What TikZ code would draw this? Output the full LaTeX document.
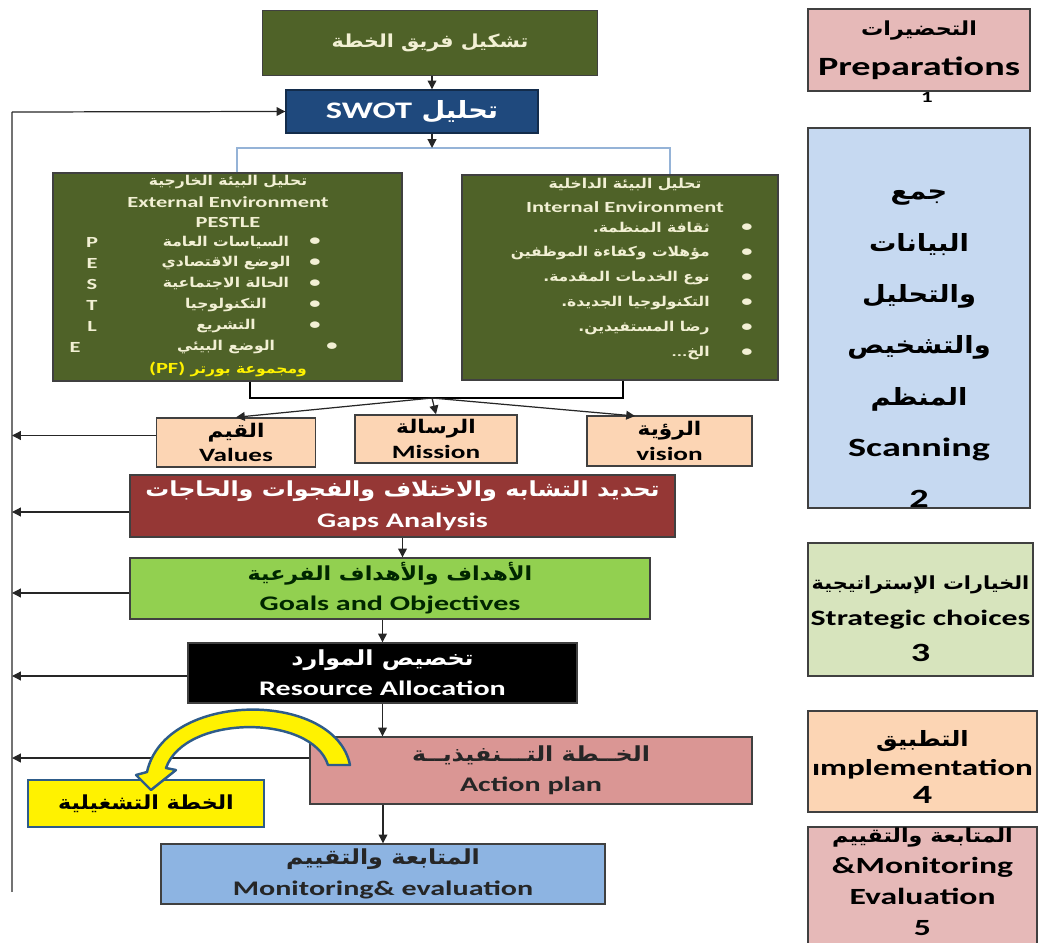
\documentclass[tikz,border=0pt]{standalone}
\usepackage{fontspec}
\setmainfont{Carlito}[FakeStretch=1.45]
\newfontfamily\arabicfont[Script=Arabic,FakeStretch=1.15]{DejaVu Sans}
\TeXXeTstate=1
\usetikzlibrary{arrows.meta,positioning}
\newcommand\ar[1]{{\arabicfont\beginR #1\endR}}
\newcommand\fsz[2]{\fontsize{#1}{#2}\selectfont}
\definecolor{olivebox}{HTML}{4F6228}
\definecolor{cream}{HTML}{F2F0D4}
\definecolor{swotblue}{HTML}{1F497D}
\definecolor{brkblue}{HTML}{95B3D7}
\definecolor{peach}{HTML}{FCD5B4}
\definecolor{gapsred}{HTML}{953735}
\definecolor{goalsgreen}{HTML}{92D050}
\definecolor{actpink}{HTML}{DA9694}
\definecolor{monblue}{HTML}{8DB4E2}
\definecolor{curvblue}{HTML}{2E5C8A}
\definecolor{preppink}{HTML}{E6B9B8}
\definecolor{scanblue}{HTML}{C6D9F1}
\definecolor{stratgreen}{HTML}{D7E4BD}
\begin{document}
\begin{tikzpicture}[x=0.02cm, y=-0.02cm,
  box/.style={draw=black!75, line width=0.8pt, inner sep=0pt, align=center},
  sz/.style 2 args={minimum width=#1*0.02cm, minimum height=#2*0.02cm},
  arr/.style={-{Triangle[length=5pt,width=5pt]}, line width=0.7pt, draw=black!85},
  item/.style={text=cream, font=\fsz{8.8}{10}\bfseries, inner sep=0pt},
  aritem/.style={item, font=\fsz{7.7}{9}\bfseries}]
\useasboundingbox (0,0) rectangle (1043,942);
% main column
\node[box, sz={335}{65}, fill=olivebox, text=cream, font=\fsz{10.2}{12}\bfseries] (team) at (430,43) {\ar{تشكيل فريق الخطة}};
\node[box, sz={252}{43}, fill=swotblue, draw=swotblue!60!black, text=white, font=\fsz{13.5}{15}\bfseries] (swot) at (412,111.5)
  {\ar{تحليل \beginL{\rmfamily SWOT}\endL}};
\node[box, sz={349}{208}, fill=olivebox] (ext) at (227.5,277) {};
\node[box, sz={316}{205}, fill=olivebox] (int) at (620,277.5) {};
% external environment
\node[aritem] (ext1) at (228,182) {\ar{تحليل البيئة الخارجية}};
\node[item] (ext2) at (228,202) {External Environment};
\node[item] (ext3) at (228,222) {PESTLE};
\foreach \t/\l [count=\i] in {{السياسات العامة}/P, {الوضع الاقتصادي}/E, {الحالة الاجتماعية}/S, {التكنولوجيا}/T, {التشريع}/L} {
  \node[aritem] (pt\i) at (226,221+21*\i) {\ar{\t}};
  \node[item] (pl\i) at (92,221+21*\i) {\l};
  \node[item] (pb\i) at (315,221+21*\i) {•};
}
\node[aritem] (pt6) at (226,347) {\ar{الوضع البيئي}};
\node[item] (pl6) at (75,347) {E};
\node[item] (pb6) at (332,347) {•};
\node[aritem, text=yellow] (porter) at (228,369) {\ar{ومجموعة بورتر \beginL{\rmfamily\fsz{8.8}{10}(PF)}\endL}};
% internal environment
\node[aritem] (int1) at (625,185) {\ar{تحليل البيئة الداخلية}};
\node[item] (int2) at (625,207) {Internal Environment};
\foreach \t [count=\i] in {{ثقافة المنظمة\beginL.\endL}, {مؤهلات وكفاءة الموظفين}, {نوع الخدمات المقدمة\beginL.\endL}, {التكنولوجيا الجديدة\beginL.\endL}, {رضا المستفيدين\beginL.\endL}} {
  \node[aritem, anchor=east] (it\i) at (710,203+25*\i) {\ar{\t}};
  \node[item] (ib\i) at (747,203+25*\i) {•};
}
\node[aritem, anchor=east] (it6) at (710,353) {\ar{الخ\beginL{\rmfamily...}\endL}};
\node[item] (ib6) at (747,353) {•};
% bracket and junction
\coordinate (brc) at (432,148);
\coordinate (brl) at (237,148);
\coordinate (brr) at (670,148);
\draw[brkblue, line width=1pt] (ext.north -| brl) -- (brl) -- (brr) -- (int.north -| brr);
\draw[arr] (team.south -| brc) -- (swot.north -| brc);
\draw[arr] (swot.south -| brc) -- (brc);
\coordinate (jn) at (432,398);
\coordinate (jl) at (250,398);
\coordinate (jr) at (623,398);
\coordinate (vtip) at (635,416);
\draw[line width=0.7pt] (ext.south -| jl) -- (jl) -- (jr) -- (int.south -| jr);
\node[box, sz={159}{49}, fill=peach, font=\fsz{10.7}{14}\bfseries] (values) at (236,442.5) {\ar{القيم}\\Values};
\node[box, sz={162}{48}, fill=peach, font=\fsz{10.7}{14}\bfseries] (mission) at (436,439) {\ar{الرسالة}\\Mission};
\node[box, sz={165}{50}, fill=peach, font=\fsz{10.7}{14}\bfseries] (vision) at (669.5,441) {\ar{الرؤية}\\vision};
\draw[arr] (jn) -- (values.north);
\draw[arr] (jn) -- (mission.north);
\draw[arr] (jn) -- (vtip);
\node[box, sz={545}{62}, fill=gapsred, text=white, font=\fsz{11.8}{17.6}\bfseries] (gaps) at (402.5,506)
  {\ar{تحديد التشابه والاختلاف والفجوات والحاجات}\\Gaps Analysis};
\node[box, sz={520}{61}, fill=goalsgreen, text=black!85!green, font=\fsz{11.8}{17}\bfseries] (goals) at (390,588.5)
  {{\fsz{11}{12}\ar{الأهداف والأهداف الفرعية}}\\Goals and Objectives};
\node[box, sz={389}{60}, fill=black, text=white, font=\fsz{11.8}{17}\bfseries] (res) at (382.5,673)
  {\ar{تخصيص الموارد}\\Resource Allocation};
\node[box, sz={442}{67}, fill=actpink, text=black!85, font=\fsz{11.8}{17}\bfseries] (act) at (531,770.5)
  {\ar{الخــطة التـــنفيذيــة}\\Action plan};
\node[box, sz={444}{60}, fill=monblue, text=black!85, font=\fsz{11.8}{17.6}\bfseries] (mon) at (383,874)
  {\ar{المتابعة والتقييم}\\Monitoring\& evaluation};
\node[box, sz={236}{47}, fill=yellow, draw=curvblue, line width=1.6pt, font=\fsz{11}{13}\bfseries] (oper) at (146,803.5)
  {\ar{الخطة التشغيلية}};
\draw[arr] (gaps.south) -- (gaps.south |- goals.north);
\draw[arr] (res.north |- goals.south) -- (res.north);
\draw[arr] (res.south) -- (res.south |- act.north);
\draw[arr] (mon.north |- act.south) -- (mon.north);
% feedback line
\coordinate (fbt) at (12,112);
\coordinate (fbb) at (12,892);
\draw[black!55, line width=1.3pt] (fbb) -- (fbt);
\draw[arr] (fbt) -- (swot.west);
\foreach \n/\s in {values/0.14, gaps/-0.12, goals/-0.09, res/-0.06, act/0.25}
  \draw[arr] ([yshift=\s cm]\n.west) -- ([yshift=\s cm]\n.west -| fbt);
% curved arrow to the operational plan
\draw[curvblue, line width=1.4pt, fill=yellow, line join=round]
  (350,765) .. controls (335,690) and (165,690) .. (147,772) -- (136,775) -- (151,790) -- (176,770) -- (166,768)
  .. controls (185,714) and (312,714) .. (328,765) -- cycle;
% stages column
\node[font=\fsz{9}{10}\bfseries] (n1) at (927,97) {1};
\node[box, sz={222}{82}, fill=preppink, font=\fsz{15}{22.7}\bfseries] (prep) at (919,50)
  {{\fsz{11}{12}\ar{التحضيرات}}\\Preparations};
\node[box, sz={222}{380}, fill=scanblue] (scan) at (919,318) {};
\node[align=center, font=\fsz{15}{29.2}\bfseries] (scant) at (919,349)
  {{\fsz{13.5}{15}\ar{جمع}}\\{\fsz{13.5}{15}\ar{البيانات}}\\{\fsz{13.5}{15}\ar{والتحليل}}\\{\fsz{13.5}{15}\ar{والتشخيص}}\\{\fsz{13.5}{15}\ar{المنظم}}\\Scanning\\2};
\node[box, sz={225}{133}, fill=stratgreen] (strat) at (920.5,609.5) {};
\node[align=center, font=\fsz{12.5}{20.4}\bfseries] (stratt) at (920.5,619)
  {{\fsz{10.3}{12}\ar{الخيارات الإستراتيجية}}\\Strategic choices\\{\fsz{15}{16}3}};
\node[box, sz={229}{101}, fill=peach] (impl) at (922.5,761.5) {};
\node[align=center, font=\fsz{13}{16}\bfseries] (implt) at (922.5,767)
  {{\fsz{12}{13}\ar{التطبيق}}\\ımplementation\\{\fsz{15}{16}4}};
\node[box, sz={229}{126}, fill=preppink] (mon2) at (922.5,890) {};
\node[align=center, font=\fsz{13.2}{17.6}\bfseries] (mon2t) at (922.5,882)
  {{\fsz{11}{12}\ar{المتابعة والتقييم}}\\\&Monitoring\\Evaluation\\5};
\end{tikzpicture}
\end{document}
